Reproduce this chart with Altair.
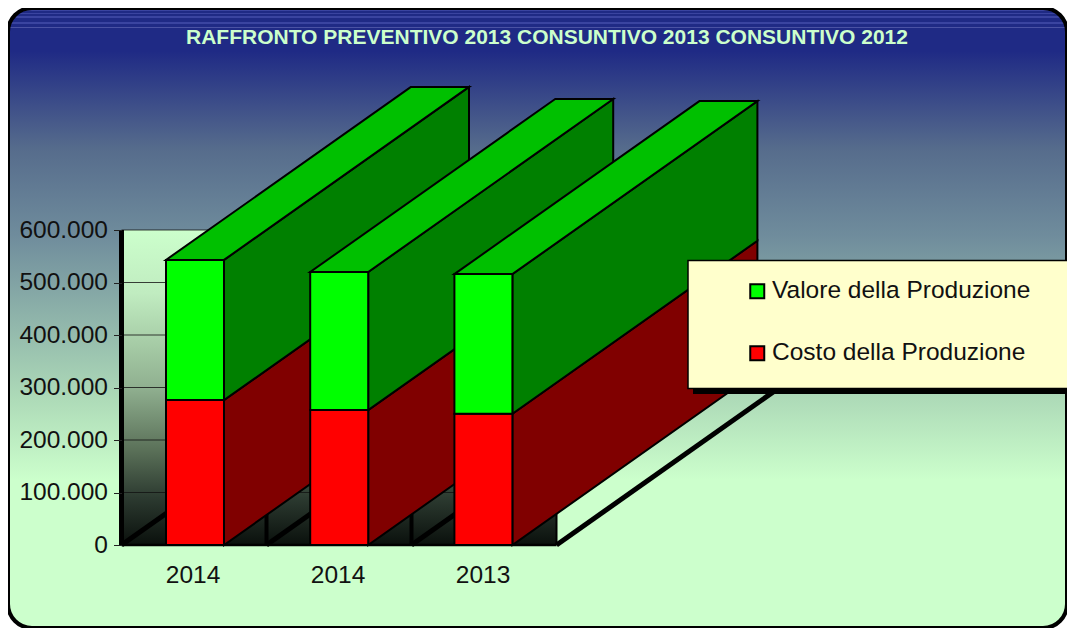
import altair as alt
import pandas as pd

categories = ["2014", "2014", "2013"]
costo = [276000, 257000, 250000]
valore = [267000, 263000, 266000]
y_ticks = [0, 100000, 200000, 300000, 400000, 500000, 600000]
title_text = "RAFFRONTO PREVENTIVO 2013 CONSUNTIVO 2013 CONSUNTIVO 2012"
series_names = ["Valore della Produzione", "Costo della Produzione"]

W, H = 1059, 620
PX_PER_SLOT = 145.0
X0_PX = 113.5
Y0_PX = 537.0
PX_PER_VAL = 0.000525
DEPTH_X = 245.0 / PX_PER_SLOT
DEPTH_Y = 173.0 / PX_PER_VAL
BAR_W = 58.0 / PX_PER_SLOT
FONT = "Liberation Sans"

xs = alt.Scale(domain=[-X0_PX / PX_PER_SLOT, (W - X0_PX) / PX_PER_SLOT], range=[0, W], nice=False, zero=False)
ys = alt.Scale(domain=[-(H - Y0_PX) / PX_PER_VAL, Y0_PX / PX_PER_VAL], range=[H, 0], nice=False, zero=False)

x_axis = alt.Axis(
    values=[i + 0.5 for i in range(len(categories))], orient="bottom", offset=Y0_PX - H,
    domain=False, grid=False, ticks=False, labelPadding=18, zindex=1, labelOffset=-1.5,
    labelFontSize=24.5, labelFont=FONT, labelColor="#111111", labelAngle=0, title=None,
    labelExpr="%s[round(datum.value-0.5)]" % str(categories),
)
y_axis = alt.Axis(
    values=y_ticks, orient="left", offset=-X0_PX, domain=False, grid=False,
    tickSize=8, tickColor="#222222", tickWidth=1, labelPadding=6, zindex=1,
    labelFontSize=24.5, labelFont=FONT, labelColor="#111111", title=None,
    labelExpr="replace(format(datum.value, ','), /,/g, '.')",
)
X = lambda f="x": alt.X(f"{f}:Q", scale=xs, axis=x_axis)
Y = lambda f="y": alt.Y(f"{f}:Q", scale=ys, axis=y_axis)


def bar_left(i):
    return (158.0 - X0_PX + 144.2 * i) / PX_PER_SLOT


def bg_stops():
    navy = "#1f2a85"
    stops = [alt.GradientStop(offset=0, color=navy)]
    for y in [3, 6, 9, 12, 15, 19, 23]:
        c = "#4a52a4" if y >= 19 else "#3a44a0"
        o0, o1 = (y - 0.5) / H, (y + 0.5) / H
        stops += [alt.GradientStop(offset=o0, color=navy), alt.GradientStop(offset=o0, color=c),
                  alt.GradientStop(offset=o1, color=c), alt.GradientStop(offset=o1, color=navy)]
    for y, c in [(43, navy), (141, "#566c8c"), (227, "#6f8c9c"), (392, "#aedbb8"), (472, "#ccffcc"), (H, "#ccffcc")]:
        stops.append(alt.GradientStop(offset=y / H, color=c))
    return stops


background = alt.Chart(pd.DataFrame({"a": [0]})).mark_rect(
    cornerRadius=24, stroke="black", strokeWidth=4,
    fill=alt.Gradient(gradient="linear", x1=0, x2=0, y1=0, y2=1, stops=bg_stops()),
).encode(x=alt.value(0), x2=alt.value(W), y=alt.value(0), y2=alt.value(H))

title_mark = alt.Chart(pd.DataFrame({"t": [title_text]})).mark_text(
    font=FONT, fontWeight="bold", fontSize=21, color="#ccffcc", baseline="middle", align="center"
).encode(x=alt.value(539), y=alt.value(30), text="t:N")

wall_stops = [(0, "#ccffcc"), (0.2, "#c0ecc0"), (0.5, "#90b090"), (0.7, "#5a7058"), (0.85, "#2c3a30"), (1, "#0a100c")]
wall = alt.Chart(pd.DataFrame({"x": [0], "x2": [3], "y": [0], "y2": [600000]})).mark_rect(
    fill=alt.Gradient(gradient="linear", x1=0, x2=0, y1=0, y2=1,
                      stops=[alt.GradientStop(offset=o, color=c) for o, c in wall_stops]),
).encode(x=X(), x2="x2:Q", y=Y(), y2="y2:Q")

grid = alt.Chart(pd.DataFrame({"y": y_ticks, "x": [0] * 7, "x2": [3] * 7})).mark_rule(
    color="#111111", strokeWidth=1.2, opacity=0.8
).encode(x=X(), x2="x2:Q", y=Y())

verticals = alt.Chart(pd.DataFrame({"x": [0, 1, 2, 3], "y": [0] * 4, "y2": [600000] * 4, "w": [5, 4, 4, 2]})).mark_rule(
    color="black"
).encode(x=X(), y=Y(), y2="y2:Q", strokeWidth=alt.StrokeWidth("w:Q", scale=None))

floor_rows = []
for k in [0, 1, 2, 3]:
    floor_rows += [{"k": k, "x": k, "y": 0}, {"k": k, "x": k + DEPTH_X, "y": DEPTH_Y}]
floor = alt.Chart(pd.DataFrame(floor_rows)).mark_line(color="black", strokeWidth=5).encode(
    x=X(), y=Y(), detail="k:N", order="x:Q"
)
base_line = alt.Chart(pd.DataFrame({"x": [0], "x2": [3], "y": [0]})).mark_rule(
    color="black", strokeWidth=2.5
).encode(x=X(), x2="x2:Q", y=Y())

color = alt.Color(
    "s:N",
    scale=alt.Scale(domain=series_names, range=["#00ff00", "#ff0000"]),
    legend=alt.Legend(
        title=None, orient="none", legendX=737, legendY=271, symbolType="square", symbolSize=196,
        symbolStrokeColor="black", symbolStrokeWidth=2, symbolOpacity=1, labelFontSize=24.5, labelFont=FONT,
        labelColor="#111111", rowPadding=37, labelOffset=2.5, padding=0, values=series_names, labelLimit=320,
    ),
)

SK = dict(stroke="black", strokeWidth=2)


def side(xr, lo, hi, col):
    d = pd.DataFrame({"x": [xr, xr + DEPTH_X], "y": [hi, hi + DEPTH_Y], "y2": [lo, lo + DEPTH_Y]})
    return alt.Chart(d).mark_area(color=col, **SK).encode(x=X(), y=Y(), y2="y2:Q")


def top(xl, xr, v, col):
    d = pd.DataFrame({"x": [xl, xl + DEPTH_X], "x2": [xr, xr + DEPTH_X], "y": [v, v + DEPTH_Y]})
    return alt.Chart(d).mark_area(color=col, orient="horizontal", **SK).encode(x=X(), x2="x2:Q", y=Y())


def front(xl, xr, lo, hi, name):
    d = pd.DataFrame({"x": [xl], "x2": [xr], "y": [hi], "y2": [lo], "s": [name]})
    return alt.Chart(d).mark_rect(**SK).encode(x=X(), x2="x2:Q", y=Y(), y2="y2:Q", color=color)


bars = []
for i in range(len(categories)):
    xl = bar_left(i)
    xr = xl + BAR_W
    c, t = costo[i], costo[i] + valore[i]
    bars += [
        side(xr, 0, c, "#800000"),
        side(xr, c, t, "#008000"),
        top(xl, xr, t, "#00c000"),
        front(xl, xr, 0, c, series_names[1]),
        front(xl, xr, c, t, series_names[0]),
    ]

legend_shadow = alt.Chart(pd.DataFrame({"a": [0]})).mark_rect(color="black").encode(
    x=alt.value(685), x2=alt.value(W + 5), y=alt.value(257), y2=alt.value(386)
)
legend_box = alt.Chart(pd.DataFrame({"a": [0]})).mark_rect(fill="#ffffcc", stroke="black", strokeWidth=1.5).encode(
    x=alt.value(680), x2=alt.value(W + 5), y=alt.value(252.5), y2=alt.value(380.5)
)

chart = alt.layer(
    background, title_mark, wall, grid, verticals, floor, base_line, *bars, legend_shadow, legend_box
).properties(
    width=W, height=H, padding=0,
    autosize=alt.AutoSizeParams(type="none"),
).configure_view(stroke=None)

chart.save("out.html", embed_options={"renderer": "svg", "actions": False})
